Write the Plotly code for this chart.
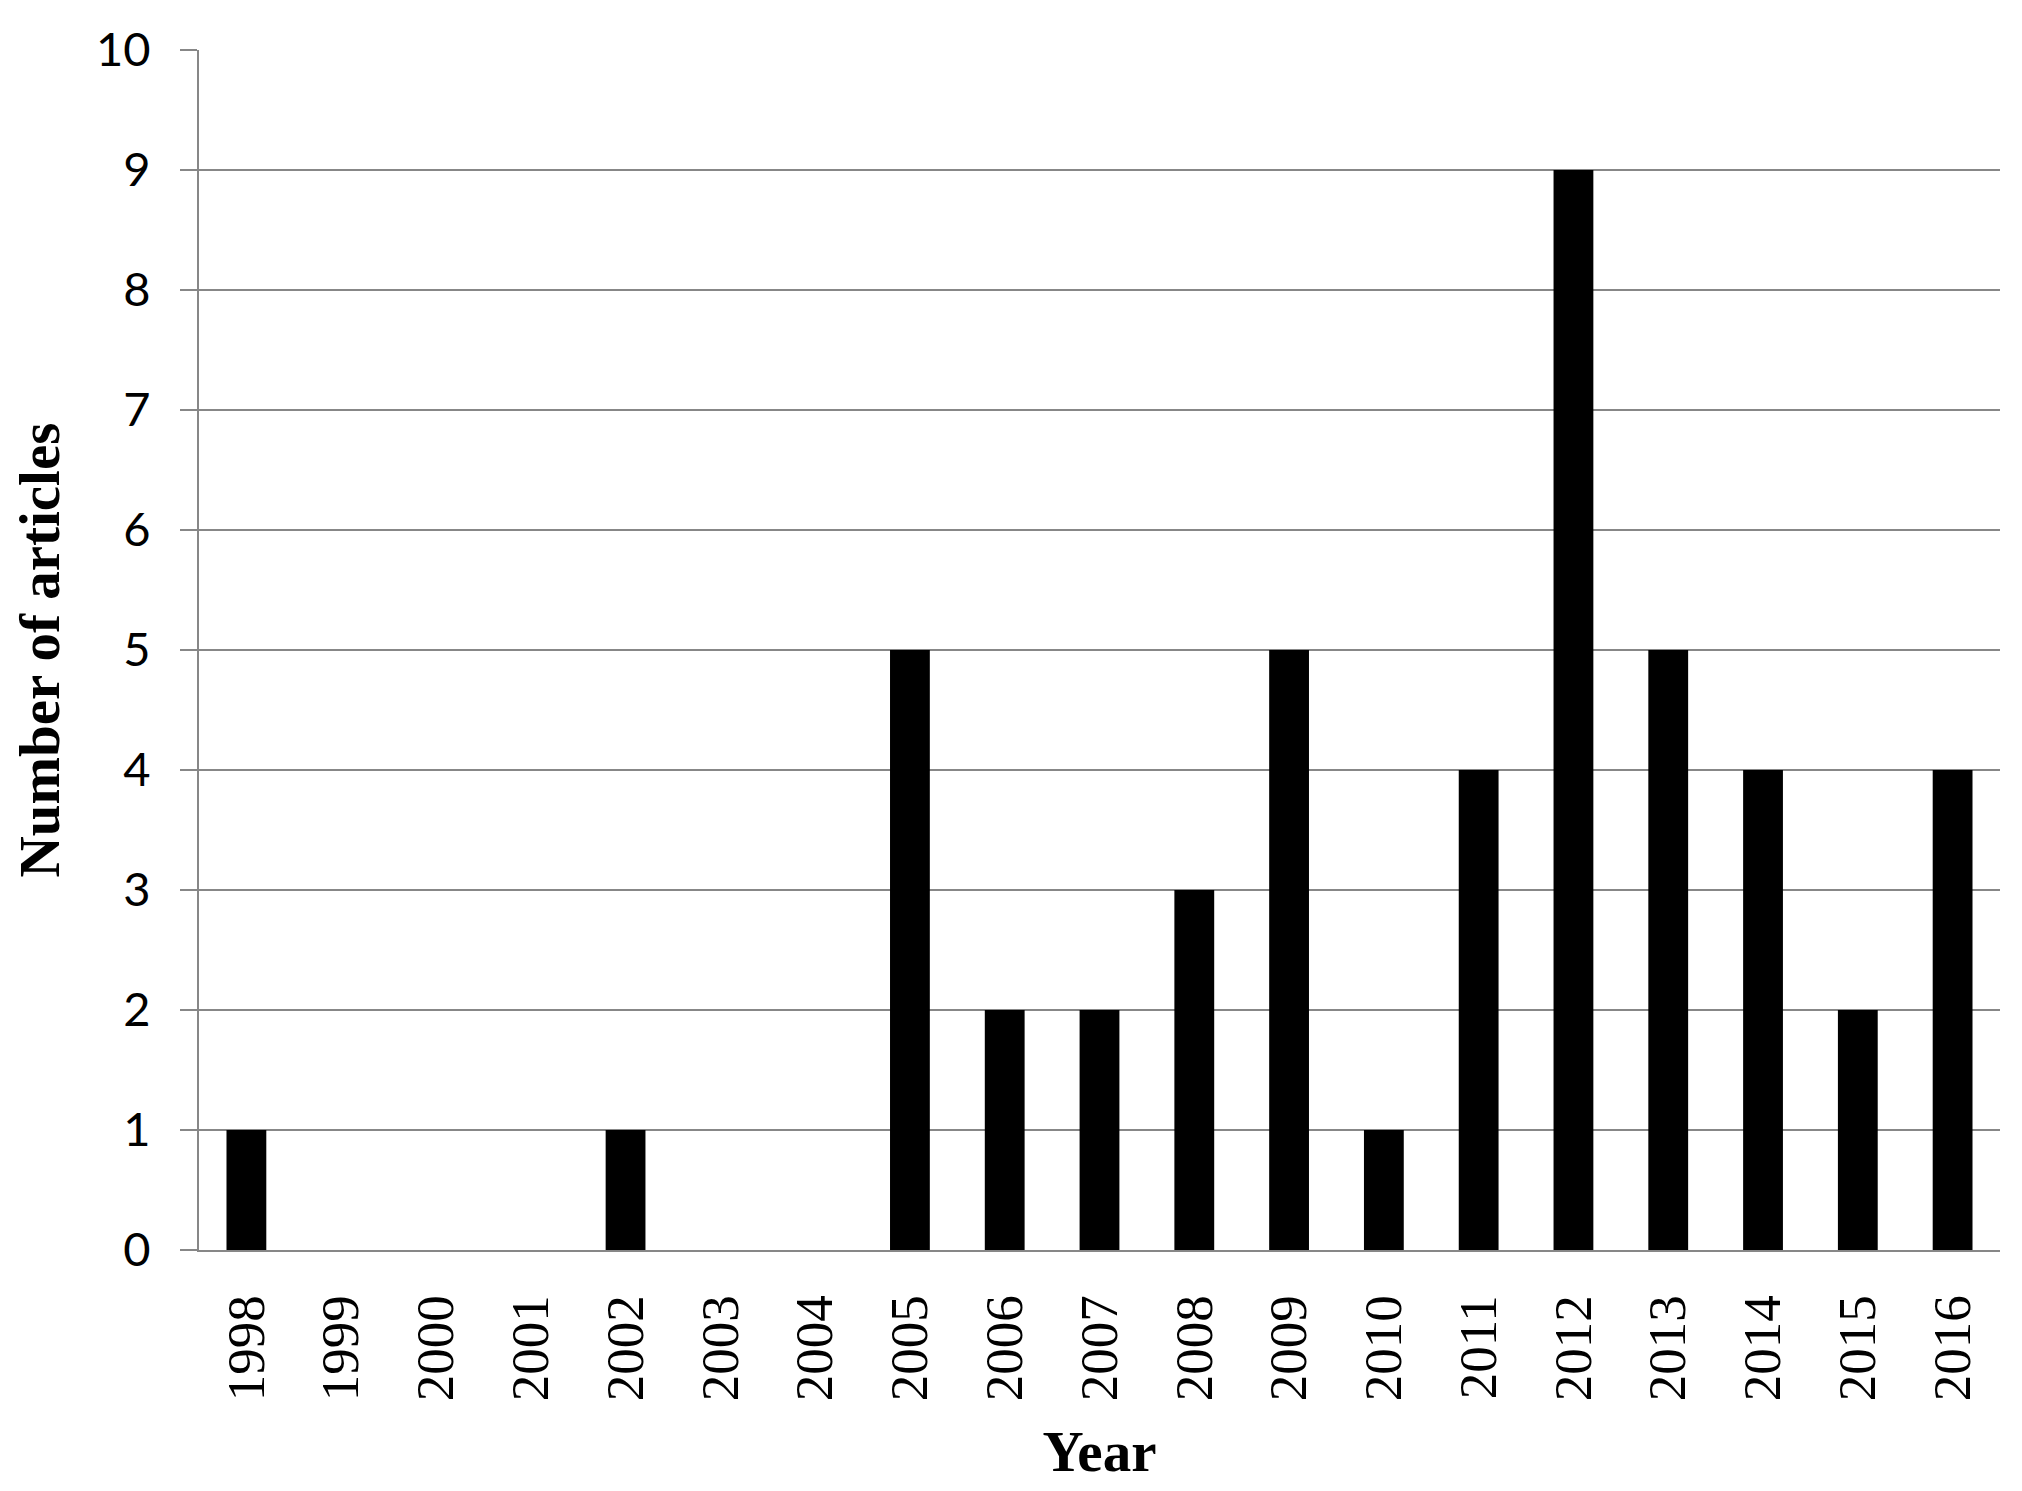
import plotly.graph_objects as go

years = [str(y) for y in range(1998, 2017)]
articles = [1, 0, 0, 0, 1, 0, 0, 5, 2, 2, 3, 5, 1, 4, 9, 5, 4, 2, 4]
y_ticks = list(range(0, 11))

GRID = "#878787"

fig = go.Figure(
    go.Bar(x=years, y=articles, marker=dict(color="black", line=dict(width=0)), width=0.42)
)

fig.update_layout(
    width=2006,
    height=1475,
    margin=dict(l=191, r=14, t=42, b=233, autoexpand=False),
    plot_bgcolor="white",
    paper_bgcolor="white",
    showlegend=False,
    bargap=0.58,
)

fig.update_xaxes(
    type="category",
    categoryorder="array",
    categoryarray=years,
    tickangle=-90,
    tickfont=dict(family="Liberation Serif", size=53, color="black"),
    showline=True,
    linecolor=GRID,
    linewidth=2,
    showgrid=False,
    ticks="",
    ticklabelstandoff=22,
    title=dict(text="<b>Year</b>", font=dict(family="Liberation Serif", size=57, color="black"), standoff=32),
)

fig.update_yaxes(
    range=[0, 10],
    tickvals=y_ticks,
    tickfont=dict(family="Lato", size=47, color="black"),
    showgrid=True,
    gridcolor=GRID,
    gridwidth=2,
    showline=True,
    linecolor=GRID,
    linewidth=2,
    ticks="outside",
    ticklen=17,
    tickcolor=GRID,
    tickwidth=2,
    zeroline=False,
    ticklabelstandoff=20,
    title=dict(text="<b>Number of articles</b>", font=dict(family="Liberation Serif", size=57, color="black"), standoff=20),
)

fig.write_html("out.html")
